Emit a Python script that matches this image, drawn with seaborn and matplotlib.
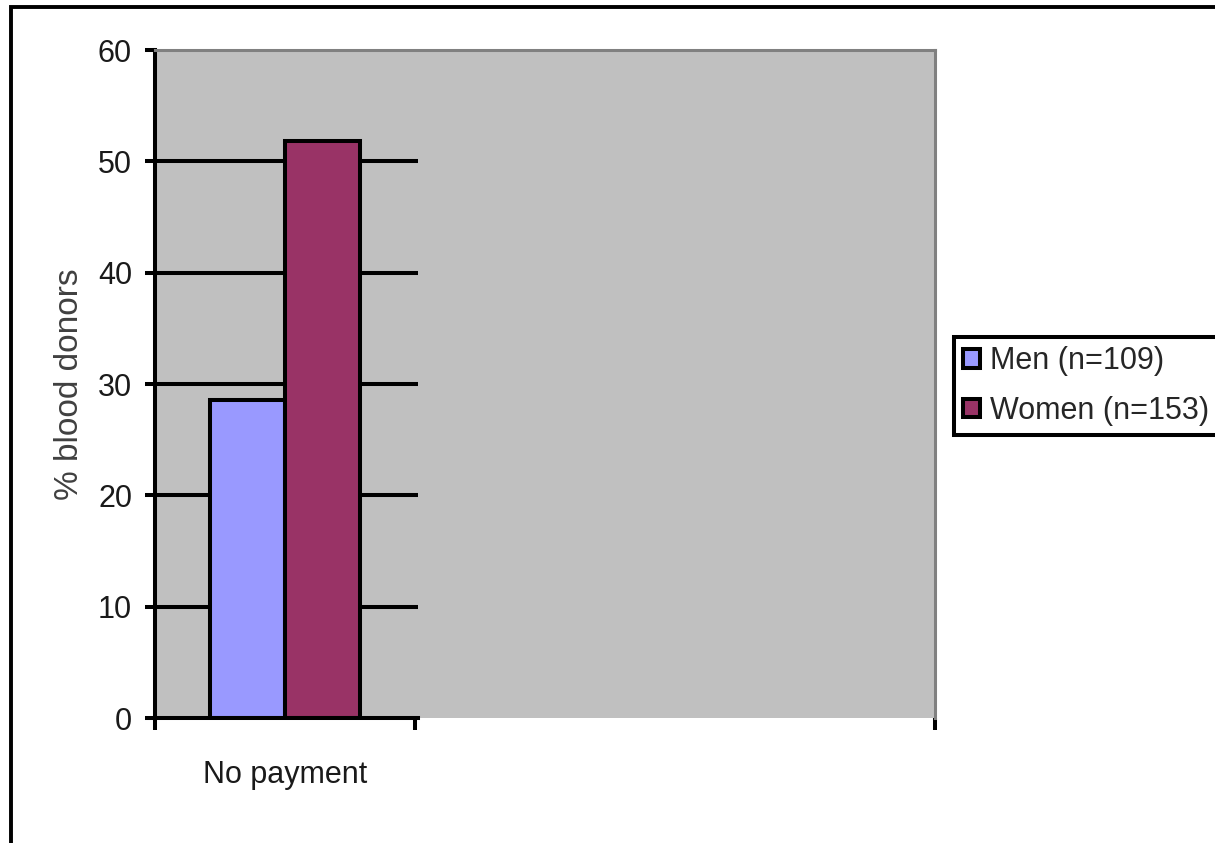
import matplotlib
matplotlib.use("Agg")
import matplotlib.pyplot as plt
import seaborn as sns
import pandas as pd
from matplotlib.patches import Rectangle

# ---- data ----
categories = ["No payment"]
groups = ["Men (n=109)", "Women (n=153)"]
men_values = [28.6]
women_values = [51.8]
yticks = [0, 10, 20, 30, 40, 50, 60]

df = pd.DataFrame({
    "category": categories * 2,
    "group": [groups[0]] * len(categories) + [groups[1]] * len(categories),
    "value": men_values + women_values,
})

sns.set_theme(style="white")
plt.rcParams["font.family"] = ["Liberation Sans", "DejaVu Sans"]
FS = 22
LW = 2.9

fig = plt.figure(figsize=(12.15, 8.43), dpi=100, facecolor="white")
ax = fig.add_axes([155 / 1215, 1 - 718 / 843, (935 - 155) / 1215, (718 - 50) / 843])
ax.set_facecolor("#C0C0C0")

sns.barplot(data=df, x="category", y="value", hue="group",
            palette=["#9999FF", "#993366"], width=0.58, gap=0,
            edgecolor="black", linewidth=LW, saturation=1, ax=ax, zorder=3)

ax.set_xlim(-0.5, 2.5)
ax.set_ylim(0, 60)

# gridlines only across first category region
ax.hlines([t for t in yticks if 0 < t < 60], -0.5, 0.51, colors="black",
          linewidth=LW, zorder=2)

# spines
for s in ["top", "right"]:
    ax.spines[s].set_color("#808080")
    ax.spines[s].set_linewidth(2.2)
ax.spines["left"].set_color("black")
ax.spines["left"].set_linewidth(LW)
ax.spines["bottom"].set_color("black")
ax.spines["bottom"].set_linewidth(LW)
ax.spines["bottom"].set_bounds(-0.5, 0.51)
ax.spines["bottom"].set_zorder(4)

# y ticks
ax.set_yticks(yticks)
ax.set_yticklabels([str(t) for t in yticks], fontsize=FS, color="#1a1a1a")
ax.tick_params(axis="y", direction="out", length=7.5, width=LW, color="black",
               pad=9, left=True)

# x ticks: label at category center, tick marks at boundaries
ax.set_xticks(range(len(categories)))
ax.set_xticklabels(categories, fontsize=FS, color="#1a1a1a")
ax.tick_params(axis="x", which="major", length=0, pad=30)
ax.set_xticks([-0.5, 0.5, 2.5], minor=True)
ax.tick_params(axis="x", which="minor", direction="out", length=8.5, width=LW,
               color="black", bottom=True)

ax.set_xlabel("")
ax.set_ylabel("% blood donors", fontsize=24, color="#404040", labelpad=9)

# legend
leg = ax.legend(loc="upper left", bbox_to_anchor=(954 / 1215, 1 - 337 / 843),
                bbox_transform=fig.transFigure, fontsize=FS, frameon=True,
                fancybox=False, edgecolor="black", framealpha=1,
                handlelength=0.55, handleheight=0.55, handletextpad=0.33,
                labelspacing=0.64, borderpad=0.3, borderaxespad=0)
leg.get_frame().set_linewidth(LW)
for h in leg.legend_handles:
    h.set_edgecolor("black")
    h.set_linewidth(LW)

# outer frame (cropped on right and bottom)
fig.patches.append(Rectangle((11 / 1215, -0.1), 1.2, 1 - 7 / 843 + 0.1,
                             transform=fig.transFigure, fill=False,
                             edgecolor="black", linewidth=2.8, clip_on=False))

fig.savefig("out.png", dpi=100, facecolor="white")
